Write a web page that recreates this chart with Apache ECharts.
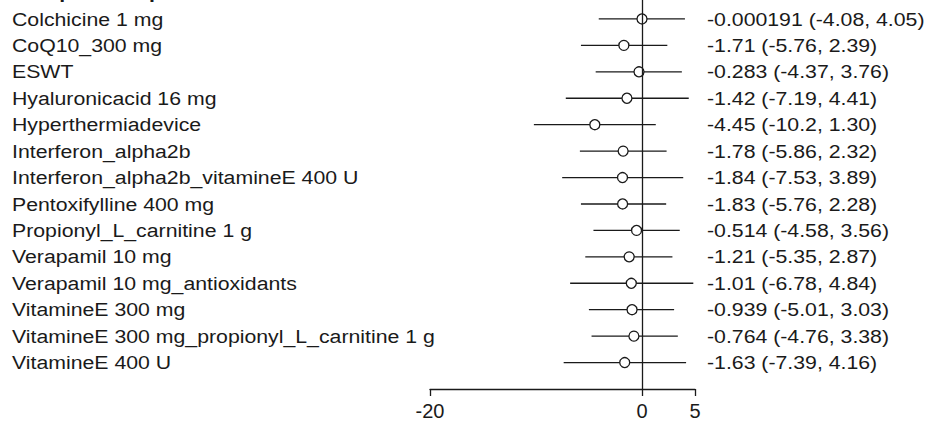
<!DOCTYPE html>
<html>
<head>
<meta charset="utf-8">
<script src="https://cdn.jsdelivr.net/npm/echarts@6/dist/echarts.min.js"></script>
<style>
html,body{margin:0;padding:0;background:#fff;}
#chart{width:925px;height:421px;}
</style>
</head>
<body>
<div id="chart"></div>
<script>
var titleText = "Comparison: placebo";
var treatments = [
  "Colchicine 1 mg",
  "CoQ10_300 mg",
  "ESWT",
  "Hyaluronicacid 16 mg",
  "Hyperthermiadevice",
  "Interferon_alpha2b",
  "Interferon_alpha2b_vitamineE 400 U",
  "Pentoxifylline 400 mg",
  "Propionyl_L_carnitine 1 g",
  "Verapamil 10 mg",
  "Verapamil 10 mg_antioxidants",
  "VitamineE 300 mg",
  "VitamineE 300 mg_propionyl_L_carnitine 1 g",
  "VitamineE 400 U"
];
var estimates = [-0.000191, -1.71, -0.283, -1.42, -4.45, -1.78, -1.84, -1.83, -0.514, -1.21, -1.01, -0.939, -0.764, -1.63];
var lower     = [-4.08, -5.76, -4.37, -7.19, -10.2, -5.86, -7.53, -5.76, -4.58, -5.35, -6.78, -5.01, -4.76, -7.39];
var upper     = [4.05, 2.39, 3.76, 4.41, 1.30, 2.32, 3.89, 2.28, 3.56, 2.87, 4.84, 3.03, 3.38, 4.16];
var xTicks = [-20, 0, 5];

function fmt(v){ return Number(v).toPrecision(3); }

var rows = treatments.map(function(t, i){
  return [i, estimates[i], lower[i], upper[i]];
});

var chart = echarts.init(document.getElementById('chart'), null, {renderer: 'svg'});
var FONT = '"Liberation Sans", Arial, sans-serif';
var INK = '#1a1a1a';
var SX = 1.12;

chart.setOption({
  animation: false,
  backgroundColor: '#ffffff',
  grid: {left: 430, width: 265, top: 0, height: 390},
  xAxis: {
    type: 'value', min: -20, max: 5,
    splitLine: {show: false},
    axisLine: {show: true, onZero: false, lineStyle: {color: INK, width: 1.3}},
    axisTick: {show: true, length: 7, lineStyle: {color: INK, width: 1.3}, customValues: xTicks},
    axisLabel: {show: true, margin: 12, color: INK, fontSize: 20, fontFamily: FONT, customValues: xTicks,
      formatter: function(v){ return String(v); }}
  },
  yAxis: {
    type: 'value', min: -0.717, max: 14, inverse: true, show: false
  },
  graphic: [{
    type: 'text', x: 12, y: -9, scaleX: SX,
    style: {text: titleText, fill: INK, font: 'bold 19px ' + FONT, verticalAlign: 'middle', align: 'left'}
  }],
  series: [{
    type: 'custom',
    clip: false,
    data: rows,
    encode: {x: [1, 2, 3], y: 0},
    renderItem: function(params, api){
      var i = api.value(0);
      var pEst = api.coord([api.value(1), i]);
      var pLo = api.coord([api.value(2), i]);
      var pHi = api.coord([api.value(3), i]);
      var pRight = api.coord([5, i]);
      return {
        type: 'group',
        children: [
          {type: 'line', shape: {x1: pLo[0], y1: pLo[1], x2: pHi[0], y2: pHi[1]},
           style: {stroke: INK, lineWidth: 1.3}},
          {type: 'circle', shape: {cx: pEst[0], cy: pEst[1], r: 5},
           style: {fill: '#ffffff', stroke: INK, lineWidth: 1.3}, z2: 10},
          {type: 'text', x: 12, y: pEst[1], scaleX: SX,
           style: {text: treatments[i], fill: INK, font: '19px ' + FONT, verticalAlign: 'middle', align: 'left'}},
          {type: 'text', x: pRight[0] + 12, y: pEst[1], scaleX: SX,
           style: {text: fmt(api.value(1)) + ' (' + fmt(api.value(2)) + ', ' + fmt(api.value(3)) + ')',
             fill: INK, font: '19px ' + FONT, verticalAlign: 'middle', align: 'left'}}
        ]
      };
    },
    markLine: {
      silent: true, symbol: 'none', label: {show: false},
      lineStyle: {color: INK, width: 1.3, type: 'solid'},
      data: [{xAxis: 0}]
    }
  }]
});
</script>
</body>
</html>
